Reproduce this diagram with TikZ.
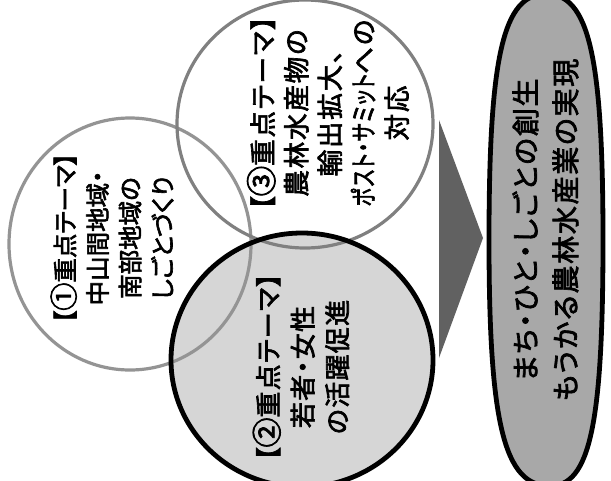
\documentclass[tikz,border=0pt]{standalone}
\usepackage{fontspec}
\setmainfont{Noto Sans CJK JP}[RawFeature={+palt}, FakeBold=2.5]
\usetikzlibrary{calc}
\definecolor{ringgrayA}{gray}{0.58}
\definecolor{ringgrayC}{gray}{0.50}
\definecolor{lightfill}{gray}{0.84}
\definecolor{ovalfill}{gray}{0.66}
\definecolor{arrowfill}{gray}{0.38}
\newcommand{\circnum}[1]{\scalebox{1.15}{#1}}
\tikzset{
  themetext/.style={rotate=90, align=center, inner sep=0pt, text=black},
  ringA/.style={draw=ringgrayA, line width=3.2pt},
  ringC/.style={draw=ringgrayC, line width=3.2pt},
}
\begin{document}
\begin{tikzpicture}[x=1pt,y=-1pt]
\useasboundingbox (0,0) rectangle (611,480);
\clip (0,0) rectangle (611,480);
\fill[white] (0,0) rectangle (611,480);
% fills
\fill[white] (130,244) ellipse [x radius=121, y radius=126];
\fill[white] (305,124) ellipse [x radius=128, y radius=124];
\fill[lightfill] (302,360) ellipse [x radius=131, y radius=127];
% outlines of the light circles
\draw[ringA] (130,244) ellipse [x radius=121, y radius=126];
\draw[ringC] (305,124) ellipse [x radius=128, y radius=124];
% circle 2 outline
\draw[black, line width=4.8pt] (302,360) ellipse [x radius=131, y radius=127];
% arrow
\fill[arrowfill] (439,120) -- (483,238) -- (439,358) -- cycle;
% goal oval
\filldraw[fill=ovalfill, draw=black, line width=4.8pt]
  (546,-6) .. controls (588.75,-6) and (603,55.5) .. (603,240)
  .. controls (603,424.5) and (589.75,486) .. (550,486)
  .. controls (504.25,486) and (489,424.5) .. (489,240)
  .. controls (489,55.5) and (503.25,-6) .. (546,-6) -- cycle;
% texts
\node[themetext, font=\fontsize{24.5}{32.5}\selectfont] (t1) at (112,238)
  {【\circnum{①}重点テーマ】\\中山間地域・\\南部地域の\\しごとづくり};
\node[themetext, font=\fontsize{26}{34.5}\selectfont\addfontfeature{LetterSpace=5}] (t2) at (301,367)
  {【\circnum{②}重点テーマ】\\若者・女性\\の活躍促進};
\node[themetext, font=\fontsize{26.5}{33.5}\selectfont\addfontfeature{LetterSpace=7}] (t3) at (328,113)
  {【\circnum{③}重点テーマ】\\農林水産物の\\輸出拡大、\\{\scalebox{0.72}[1]{ポスト・サミット}}への\\対応};
\node[themetext, font=\fontsize{28}{40}\selectfont\addfontfeature{LetterSpace=6}] (t4) at (545.5,230)
  {まち・ひと・しごとの創生\\もうかる農林水産業の実現};
\end{tikzpicture}
\end{document}
